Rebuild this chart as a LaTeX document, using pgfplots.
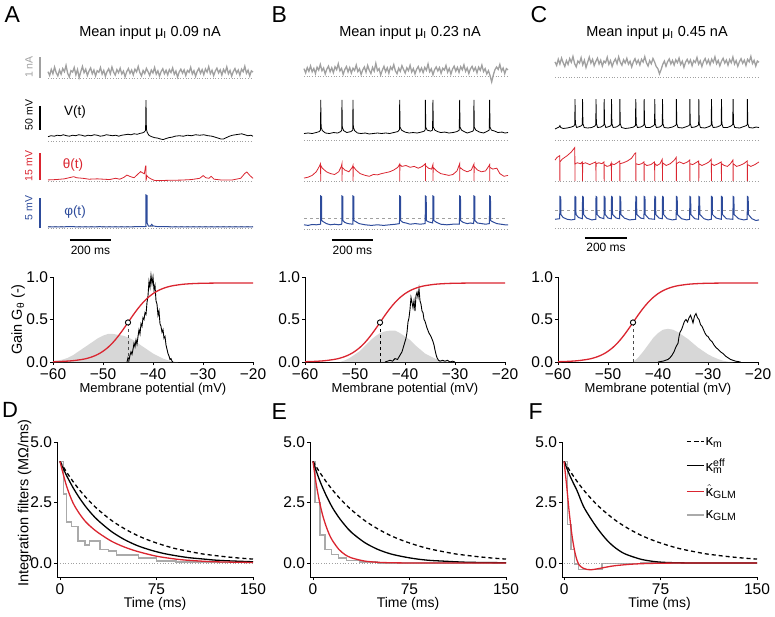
\documentclass[border=0pt]{standalone}
\usepackage{fontspec}
\setmainfont{Liberation Sans}
\usepackage{pgfplots}
\pgfplotsset{compat=1.18}
\pgfplotsset{/pgf/number format/assume math mode=true}

\definecolor{myred}{RGB}{218,37,48}
\definecolor{myblue}{RGB}{45,75,155}
\definecolor{trgray}{RGB}{160,160,160}
\definecolor{shade}{RGB}{215,215,215}
\definecolor{stepgray}{RGB}{170,170,170}
\newcommand\fs[1]{\fontsize{#1}{#1}\selectfont}

\pgfplotsset{
  trace/.style={axis lines=none, ticks=none, scale only axis, xmin=0, xmax=1000,
    anchor=south west, clip=false},
  guide/.style={trgray, dotted, line width=0.7pt},
  gainax/.style={scale only axis, width=200pt, height=85pt, anchor=south west,
    xmin=-60, xmax=-20, ymin=0, ymax=1, clip=false,
    axis x line*=bottom, axis y line*=left, axis line style={line width=0.8pt},
    tick align=outside, major tick length=3pt, tick style={line width=0.8pt, black},
    xtick={-60,-50,-40,-30,-20}, xticklabels={−60,−50,−40,−30,−20},
    ytick={0,0.5,1}, yticklabels={0.0,0.5,1.0},
    tick label style={font=\fs{15.5}},
    yticklabel style={xshift=1.5pt},
    xlabel={Membrane potential (mV)}, xlabel style={font=\fs{13}, yshift=3pt}},
  filtax/.style={scale only axis, height=135pt, anchor=south west,
    xmax=150, ymin=-0.58, ymax=5,
    axis x line*=bottom, axis y line*=left, axis line style={line width=0.8pt},
    tick align=outside, major tick length=3pt, tick style={line width=0.8pt, black},
    xtick={0,75,150}, ytick={0,2.5,5}, yticklabels={0.0,2.5,5.0},
    tick label style={font=\fs{15.5}},
    yticklabel style={xshift=1.5pt},
    xlabel={Time (ms)}, xlabel style={font=\fs{14}, yshift=4pt}},
  sig/.style={myred, line width=1.3pt, smooth},
  hist/.style={black, line width=0.9pt},
  kmdash/.style={black, line width=1.3pt, dash pattern=on 4pt off 3pt, smooth},
  keff/.style={black, line width=1.3pt, smooth},
  kglmh/.style={myred, line width=1.3pt, smooth},
  kglm/.style={stepgray, line width=1.5pt, const plot},
}

\begin{document}
\begin{tikzpicture}
\path[use as bounding box] (0,0) rectangle (775pt,616pt);

% panel letters and titles
\node[font=\fs{23}, anchor=west] at (1pt,601pt) {A};
\node[font=\fs{23}, anchor=west] at (268pt,601pt) {B};
\node[font=\fs{23}, anchor=west] at (527pt,601pt) {C};
\node[font=\fs{22}, anchor=west] at (-1.5pt,206pt) {D};
\node[font=\fs{23}, anchor=west] at (268pt,204pt) {E};
\node[font=\fs{23}, anchor=west] at (525pt,204pt) {F};
\node[font=\fs{14.5}] at (150pt,583pt) {Mean input μ\textsubscript{I} 0.09 nA};
\node[font=\fs{14.5}] at (410pt,583pt) {Mean input μ\textsubscript{I} 0.23 nA};
\node[font=\fs{14.5}] at (657pt,583pt) {Mean input μ\textsubscript{I} 0.45 nA};
\node[font=\fs{13.5}] at (75pt,504pt) {V(t)};
\node[font=\fs{13.5}, text=myred] at (73pt,451pt) {θ(t)};
\node[font=\fs{13.5}, text=myblue] at (75pt,404pt) {φ(t)};

%================ column A traces
\begin{axis}[trace, at={(48pt,527.5pt)}, width=205pt, height=31.5pt, ymin=-0.5, ymax=1]
\addplot[guide] coordinates {(0,0)(1000,0)};
\addplot[trgray, line width=1.3pt] coordinates {(0,.30)(8,.12)(16,.41)(24,.20)(32,.52)(40,.25)(48,.10)(56,.38)(64,.18)(72,.45)(80,.30)(88,.60)(96,.22)(104,.05)(112,.35)(120,.28)(128,.50)(136,.15)(144,.40)(152,.02)(160,.30)(168,.55)(176,.25)(184,.42)(192,.12)(200,.33)(208,.48)(216,.20)(224,.38)(232,.10)(240,.35)(248,.27)(256,.50)(264,.18)(272,.36)(280,.08)(288,.30)(296,.44)(304,.20)(312,.52)(320,.28)(328,.14)(336,.40)(344,.25)(352,.47)(360,.19)(368,.33)(376,.06)(384,.30)(392,.45)(400,.22)(408,.38)(416,.15)(424,.42)(432,.29)(440,.55)(448,.26)(456,.10)(464,.36)(472,.21)(480,.46)(488,.30)(496,.12)(504,.38)(512,.24)(520,.50)(528,.18)(536,.34)(544,.09)(552,.31)(560,.44)(568,.20)(576,.37)(584,.15)(592,.40)(600,.26)(608,.48)(616,.17)(624,.33)(632,.04)(640,.29)(648,.42)(656,.23)(664,.39)(672,.12)(680,.36)(688,.27)(696,.51)(704,.19)(712,.35)(720,.08)(728,.32)(736,.46)(744,.22)(752,.40)(760,.16)(768,.43)(776,.28)(784,.54)(792,.21)(800,.37)(808,.11)(816,.33)(824,.47)(832,.24)(840,.39)(848,.14)(856,.41)(864,.26)(872,.53)(880,.20)(888,.36)(896,.09)(904,.31)(912,.45)(920,.23)(928,.38)(936,.13)(944,.42)(952,.30)(960,.56)(968,.22)(976,.37)(984,.10)(992,.34)(1000,.28)};
\addplot[trgray, line width=2pt] coordinates {(-39,0)(-39,1)};
\node[font=\fs{10.5}, text=trgray, rotate=90] at (axis cs:-93,0.52) {1 nA};
\end{axis}

\begin{axis}[trace, at={(48pt,470.2pt)}, width=205pt, height=48pt, ymin=-80, ymax=20]
\addplot[guide] coordinates {(0,-70)(1000,-70)};
\addplot[black, line width=0.8pt] coordinates {(0,-61)(15,-59)(30,-60)(45,-58)(60,-59)(75,-57)(90,-59)(105,-60)(120,-58)(135,-59)(150,-57)(165,-58)(180,-60)(195,-58)(210,-59)(225,-57)(240,-58)(255,-60)(270,-59)(285,-57)(300,-58)(315,-59)(330,-58)(345,-60)(360,-58)(375,-57)(390,-56)(405,-57)(420,-55)(435,-56)(450,-54)(462,-53)(470,-51)(476,-48)(478,15)(480,-45)(484,-52)(492,-58)(505,-61)(520,-63)(535,-64)(550,-66)(562,-67)(575,-65)(590,-63)(605,-62)(620,-60)(640,-59)(660,-60)(680,-58)(700,-59)(720,-57)(740,-58)(760,-57)(780,-59)(800,-60)(815,-62)(830,-64)(845,-66)(855,-66)(870,-63)(885,-60)(900,-58)(915,-57)(930,-56)(945,-55)(960,-57)(975,-59)(990,-58)(1000,-60)};
\addplot[black, line width=2pt] coordinates {(-39,-47)(-39,3)};
\node[font=\fs{10.5}, rotate=90] at (axis cs:-93,-16) {50 mV};
\end{axis}

\begin{axis}[trace, at={(48pt,431.4pt)}, width=205pt, height=32.4pt, ymin=-2, ymax=16]
\addplot[guide] coordinates {(0,0)(1000,0)};
\addplot[myred, line width=0.8pt] coordinates {(0,0.6)(40,0.8)(80,1.2)(110,2.0)(125,2.4)(140,1.8)(170,1.5)(200,1.0)(240,1.2)(270,1.0)(300,0.8)(330,1.5)(350,1.0)(370,2.0)(385,3.3)(400,2.5)(420,1.8)(440,4.0)(452,5.2)(462,4.5)(470,4.0)(476,8.3)(478,8.3)(478.5,0.2)(482,3.0)(490,2.0)(505,1.0)(520,0.3)(560,0.3)(600,0.4)(650,0.5)(700,0.8)(740,1.5)(757,3.0)(770,1.8)(785,1.5)(796,2.6)(810,1.0)(850,0.5)(900,0.6)(940,1.5)(960,4.2)(970,5.0)(985,3.0)(1000,1.5)};
\addplot[myred, line width=2pt] coordinates {(-39,0.5)(-39,15.5)};
\node[font=\fs{10.5}, text=myred, rotate=90] at (axis cs:-93,8.3) {15 mV};
\end{axis}

\begin{axis}[trace, at={(48pt,385pt)}, width=205pt, height=39pt, ymin=-0.5, ymax=6]
\addplot[guide] coordinates {(0,0)(1000,0)};
\addplot[trgray, dashed, line width=0.7pt] coordinates {(0,0.25)(1000,0.25)};
\addplot[myblue, line width=1pt] coordinates {(0,.2)(50,.18)(100,.22)(150,.2)(200,.19)(250,.21)(300,.2)(350,.18)(400,.2)(450,.22)(477,.25)(478,5.5)(483,5.4)(484,.8)(490,.3)(500,.35)(506,.6)(512,.35)(530,.25)(600,.2)(700,.2)(800,.18)(900,.2)(1000,.2)};
\addplot[myblue, line width=2pt] coordinates {(-39,0)(-39,5)};
\node[font=\fs{10.5}, text=myblue, rotate=90] at (axis cs:-93,3.3) {5 mV};
\addplot[black, line width=2.5pt] coordinates {(107,-2)(307,-2)};
\node[font=\fs{12}] at (axis cs:207,-3.8) {200 ms};
\end{axis}

%================ column B traces
\begin{axis}[trace, at={(304pt,529.5pt)}, width=204pt, height=31.5pt, ymin=-0.5, ymax=1]
\addplot[guide] coordinates {(0,0)(1000,0)};
\addplot[trgray, line width=1.3pt] coordinates {(0,.35)(8,.15)(16,.40)(24,.22)(32,.48)(40,.20)(48,.36)(56,.12)(64,.42)(72,.28)(80,.55)(88,.25)(96,.38)(104,.10)(112,.33)(120,.47)(128,.20)(136,.39)(144,.16)(152,.44)(160,.30)(168,.58)(176,.24)(184,.36)(192,.08)(200,.31)(208,.45)(216,.19)(224,.40)(232,.14)(240,.37)(248,.26)(256,.52)(264,.21)(272,.34)(280,.07)(288,.29)(296,.43)(304,.18)(312,.50)(320,.27)(328,.12)(336,.41)(344,.23)(352,.60)(360,.25)(368,.35)(376,.05)(384,.28)(392,.46)(400,.20)(408,.39)(416,.13)(424,.43)(432,.30)(440,.54)(448,.24)(456,.11)(464,.37)(472,.22)(480,.49)(488,.31)(496,.14)(504,.39)(512,.25)(520,.51)(528,.19)(536,.35)(544,.10)(552,.32)(560,.45)(568,.21)(576,.38)(584,.16)(592,.41)(600,.27)(608,.57)(616,.20)(624,.34)(632,.06)(640,.30)(648,.43)(656,.24)(664,.40)(672,.13)(680,.37)(688,.28)(696,.50)(704,.18)(712,.36)(720,.09)(728,.33)(736,.47)(744,.23)(752,.41)(760,.17)(768,.44)(776,.29)(784,.53)(792,.22)(800,.38)(808,.12)(816,.34)(824,.46)(832,.25)(840,.40)(848,.15)(856,.42)(864,.27)(872,.52)(880,.21)(888,.35)(896,.10)(904,.25)(912,.02)(920,-.28)(928,.05)(936,.30)(944,.43)(952,.31)(960,.55)(968,.23)(976,.38)(984,.11)(992,.35)(1000,.29)};
\end{axis}

\begin{axis}[trace, at={(304pt,470.5pt)}, width=204pt, height=48pt, ymin=-80, ymax=20]
\addplot[guide] coordinates {(0,-70)(1000,-70)};
\addplot[black, line width=0.8pt] coordinates {(0,-55)(20,-54)(40,-55)(60,-53)(75,-51)(81,-48)(82,15)(84,-42)(90,-49)(105,-54)(125,-55)(145,-53)(165,-54)(180,-51)(185,-48)(186,15)(188,-42)(194,-49)(210,-53)(230,-51)(239,-48)(240,15)(242,-42)(248,-49)(262,-54)(280,-55)(300,-54)(320,-56)(340,-55)(360,-54)(380,-55)(400,-54)(420,-55)(440,-53)(460,-51)(468,-47)(469,15)(471,-42)(478,-48)(495,-52)(515,-54)(535,-53)(555,-54)(575,-52)(590,-50)(594,-47)(595,15)(597,-42)(604,-48)(620,-50)(630,-48)(632,15)(634,-42)(641,-48)(655,-51)(670,-53)(690,-52)(710,-54)(730,-53)(750,-51)(761,-48)(763,15)(765,-42)(772,-48)(785,-51)(800,-54)(815,-52)(828,-50)(832,-47)(833,15)(835,-42)(842,-48)(860,-52)(880,-54)(895,-51)(908,-48)(910,15)(912,-42)(919,-48)(935,-50)(950,-53)(970,-52)(985,-54)(1000,-53)};
\end{axis}

\begin{axis}[trace, at={(304pt,430.7pt)}, width=204pt, height=32.4pt, ymin=-2, ymax=16]
\addplot[guide] coordinates {(0,0)(1000,0)};
\addplot[myred, line width=0.8pt] coordinates {(0,2.0)(20,2.5)(40,3.5)(60,5.5)(75,8.5)(81,10.0)(82,0.3)(82.5,9.0)(90,7.5)(110,5.5)(130,4.5)(150,4.0)(170,5.5)(183,8.5)(186,10.0)(186.5,0.3)(187,8.0)(200,6.5)(220,5.5)(237,8.0)(240,9.0)(240.5,0.3)(241,8.5)(255,6.5)(275,4.5)(300,3.5)(320,3.0)(340,4.0)(360,3.8)(380,4.5)(400,5.0)(420,5.5)(440,6.5)(460,8.0)(469,9.8)(469.5,0.3)(470,9.5)(480,8.5)(500,9.0)(520,8.0)(540,8.5)(560,7.5)(580,8.5)(595,10.0)(595.5,0.3)(596,9.0)(610,7.5)(625,7.0)(632,9.5)(632.5,0.3)(633,8.0)(650,6.0)(670,4.5)(690,4.0)(710,3.5)(730,4.0)(750,6.0)(763,10.0)(763.5,0.3)(764,8.0)(780,6.5)(800,5.5)(820,6.5)(833,9.8)(833.5,0.3)(834,8.5)(850,6.5)(870,5.5)(890,6.0)(905,8.5)(910,9.5)(910.5,0.3)(911,8.0)(925,7.0)(945,7.5)(960,4.5)(980,3.0)(1000,3.5)};
\end{axis}

\begin{axis}[trace, at={(304pt,384pt)}, width=204pt, height=39pt, ymin=-0.5, ymax=6]
\addplot[guide] coordinates {(0,0)(1000,0)};
\addplot[trgray, dashed, line width=0.7pt] coordinates {(0,1.8)(1000,1.8)};
\addplot[myblue, line width=1pt] coordinates {(0,.7)(20,.6)(40,.75)(60,.7)(81,.8)(82,5.5)(86,5.4)(87,1.4)(95,1.2)(110,.9)(130,.7)(150,.8)(170,.7)(185,.8)(186,5.5)(190,5.4)(191,1.4)(200,1.1)(215,.9)(239,.8)(240,5.5)(244,5.4)(245,1.4)(255,1.2)(270,.9)(300,.7)(330,.6)(360,.7)(390,.6)(420,.7)(450,.8)(468,.9)(469,5.5)(473,5.4)(474,1.4)(485,1.1)(500,1.0)(520,.8)(545,.9)(570,.8)(594,.9)(595,5.5)(599,5.4)(600,1.4)(610,1.2)(631,1.0)(632,5.5)(636,5.4)(637,1.4)(650,1.1)(670,.8)(700,.7)(730,.8)(762,.8)(763,5.5)(767,5.4)(768,1.4)(780,1.1)(800,.9)(815,1.0)(832,.9)(833,5.5)(837,5.4)(838,1.4)(850,1.0)(870,.9)(890,.8)(909,.9)(910,5.5)(914,5.4)(915,1.4)(925,1.2)(945,.9)(965,.8)(985,.7)(1000,.7)};
\addplot[black, line width=2.5pt] coordinates {(137,-1.8)(337,-1.8)};
\node[font=\fs{12}] at (axis cs:237,-3.5) {200 ms};
\end{axis}

%================ column C traces
\begin{axis}[trace, at={(555pt,528.5pt)}, width=204pt, height=31.5pt, ymin=-0.5, ymax=1]
\addplot[guide] coordinates {(0,0)(1000,0)};
\addplot[trgray, line width=1.3pt] coordinates {(0,.72)(8,.55)(16,.85)(24,.62)(32,.90)(40,.68)(48,.50)(56,.78)(64,.60)(72,.88)(80,.70)(88,.98)(96,.64)(104,.48)(112,.76)(120,.66)(128,.92)(136,.58)(144,.80)(152,.45)(160,.70)(168,.95)(176,.66)(184,.84)(192,.54)(200,.74)(208,.90)(216,.62)(224,.80)(232,.52)(240,.76)(248,.68)(256,.94)(264,.60)(272,.78)(280,.50)(288,.72)(296,.86)(304,.63)(312,.96)(320,.70)(328,.56)(336,.82)(344,.67)(352,.89)(360,.61)(368,.75)(376,.48)(384,.72)(392,.87)(400,.64)(408,.80)(416,.57)(424,.84)(432,.71)(440,.97)(448,.68)(456,.52)(464,.78)(472,.63)(480,.88)(488,.72)(496,.50)(504,.40)(512,.15)(520,.35)(528,.60)(536,.76)(544,.51)(552,.73)(560,.86)(568,.62)(576,.79)(584,.57)(592,.82)(600,.68)(608,.90)(616,.59)(624,.75)(632,.46)(640,.71)(648,.84)(656,.65)(664,.81)(672,.54)(680,.78)(688,.69)(696,.93)(704,.61)(712,.77)(720,.50)(728,.74)(736,.88)(744,.64)(752,.82)(760,.58)(768,.85)(776,.70)(784,.96)(792,.63)(800,.79)(808,.53)(816,.75)(824,.89)(832,.66)(840,.81)(848,.56)(856,.83)(864,.68)(872,.95)(880,.62)(888,.78)(896,.51)(904,.73)(912,.87)(920,.65)(928,.80)(936,.55)(944,.84)(952,.72)(960,.98)(968,.64)(976,.79)(984,.52)(992,.76)(1000,.70)};
\end{axis}

\begin{axis}[trace, at={(555pt,471.2pt)}, width=204pt, height=48pt, ymin=-80, ymax=20]
\addplot[guide] coordinates {(0,-70)(1000,-70)};
\addplot[black, line width=0.8pt] coordinates {(0,-47)(10,-45)(20,-43)(24,-40)(28,-44)(40,-46)(60,-45)(80,-43)(92,-41)(97,-38)(98,15)(100,-36)(106,-44)(120,-42)(130,-40)(134,-38)(135,15)(137,-36)(143,-44)(160,-45)(180,-44)(195,-41)(200,-38)(201,15)(203,-36)(209,-44)(225,-43)(236,-40)(240,-38)(241,15)(243,-36)(249,-44)(265,-42)(274,-40)(276,-38)(277,15)(279,-36)(285,-44)(300,-43)(312,-40)(317,-38)(318,15)(320,-36)(326,-44)(345,-46)(365,-45)(385,-43)(394,-40)(396,15)(398,-36)(404,-44)(420,-43)(433,-40)(436,-38)(437,15)(439,-36)(445,-44)(465,-44)(480,-41)(488,-38)(489,15)(491,-36)(497,-44)(512,-43)(523,-40)(526,-38)(527,15)(529,-36)(535,-44)(555,-45)(575,-43)(590,-40)(594,-38)(595,15)(597,-36)(603,-44)(625,-45)(645,-42)(657,-40)(660,-38)(661,15)(663,-36)(669,-44)(685,-43)(700,-40)(704,-38)(705,15)(707,-36)(713,-44)(735,-45)(755,-42)(764,-40)(766,-38)(767,15)(769,-36)(775,-44)(795,-43)(810,-40)(815,-38)(816,15)(818,-36)(824,-44)(845,-44)(862,-41)(871,-38)(873,15)(875,-36)(881,-44)(905,-45)(925,-42)(938,-40)(942,-38)(943,15)(945,-36)(951,-44)(970,-45)(985,-43)(1000,-44)};
\end{axis}

\begin{axis}[trace, at={(555pt,430.7pt)}, width=204pt, height=32.4pt, ymin=-2, ymax=16]
\addplot[guide] coordinates {(0,0)(1000,0)};
\addplot[myred, line width=0.8pt] coordinates {(0,12.0)(10,13.5)(23,14.5)(24,0.3)(24.5,11.0)(35,12.5)(60,14.5)(80,16.5)(97,19.0)(98,0.3)(98.5,10.0)(110,10.5)(125,10.0)(134,11.0)(135,0.3)(135.5,10.0)(150,10.5)(170,9.5)(190,10.5)(200,11.0)(201,0.3)(201.5,10.0)(215,10.5)(230,10.0)(240,11.0)(241,0.3)(241.5,9.5)(255,8.5)(270,9.0)(276,10.5)(277,0.3)(277.5,10.0)(290,9.5)(305,10.5)(317,11.5)(318,0.3)(318.5,10.0)(335,10.5)(355,11.5)(375,13.0)(390,15.5)(396,16.0)(396.5,0.3)(397,10.0)(410,9.5)(425,10.0)(436,11.0)(437,0.3)(437.5,10.0)(450,9.0)(470,9.5)(488,11.0)(489,0.3)(489.5,10.0)(500,9.0)(515,10.0)(526,12.5)(527,0.3)(527.5,10.5)(545,9.0)(565,10.0)(585,12.0)(594,13.5)(595,0.3)(595.5,10.0)(610,11.0)(630,10.0)(650,11.0)(660,12.0)(661,0.3)(661.5,10.0)(675,9.5)(690,10.5)(704,11.5)(705,0.3)(705.5,10.0)(720,9.0)(740,10.0)(755,11.0)(766,12.5)(767,0.3)(767.5,10.0)(780,9.0)(800,10.0)(815,11.0)(816,0.3)(816.5,10.0)(830,9.0)(845,8.5)(860,10.0)(872,12.0)(873,0.3)(873.5,10.0)(890,8.5)(905,9.0)(925,10.0)(942,11.5)(943,0.3)(943.5,9.5)(960,8.5)(980,9.5)(1000,11.0)};
\end{axis}

\begin{axis}[trace, at={(555pt,384.7pt)}, width=204pt, height=39pt, ymin=-0.5, ymax=6]
\addplot[guide] coordinates {(0,0)(1000,0)};
\addplot[trgray, dashed, line width=0.7pt] coordinates {(0,3.05)(1000,3.05)};
\addplot[myblue, line width=1pt] coordinates {(0,1.5)(23,1.6)(24,5.3)(28,5.2)(29,2.3)(40,1.8)(60,1.5)(80,1.4)(97,1.5)(98,5.3)(102,5.2)(103,2.3)(115,1.8)(134,1.6)(135,5.3)(139,5.2)(140,2.3)(155,1.7)(180,1.4)(200,1.5)(201,5.3)(205,5.2)(206,2.3)(220,1.8)(240,1.6)(241,5.3)(245,5.2)(246,2.3)(260,1.7)(276,1.6)(277,5.3)(281,5.2)(282,2.3)(300,1.7)(317,1.6)(318,5.3)(322,5.2)(323,2.3)(340,1.7)(365,1.4)(395,1.5)(396,5.3)(400,5.2)(401,2.3)(420,1.7)(436,1.6)(437,5.3)(441,5.2)(442,2.3)(460,1.6)(488,1.5)(489,5.3)(493,5.2)(494,2.3)(510,1.7)(526,1.6)(527,5.3)(531,5.2)(532,2.3)(550,1.6)(575,1.4)(594,1.5)(595,5.3)(599,5.2)(600,2.3)(620,1.6)(645,1.4)(660,1.5)(661,5.3)(665,5.2)(666,2.3)(685,1.6)(704,1.5)(705,5.3)(709,5.2)(710,2.3)(730,1.6)(750,1.4)(766,1.5)(767,5.3)(771,5.2)(772,2.3)(790,1.7)(815,1.5)(816,5.3)(820,5.2)(821,2.3)(840,1.6)(872,1.5)(873,5.3)(877,5.2)(878,2.3)(900,1.6)(925,1.4)(942,1.5)(943,5.3)(947,5.2)(948,2.3)(965,1.6)(985,1.3)(1000,1.4)};
\addplot[black, line width=2.5pt] coordinates {(147,-1.6)(353,-1.6)};
\node[font=\fs{12}] at (axis cs:250,-3.2) {200 ms};
\end{axis}

%================ gain panels
\begin{axis}[gainax, at={(53pt,254pt)}, ylabel={Gain G\textsubscript{θ} (-)},
  ylabel style={font=\fs{14.5}, at={(axis description cs:-0.175,0.5)}, anchor=center}]
\addplot[fill=shade, draw=none] coordinates {(-60,0.005)(-58,0.03)(-57,0.05)(-56,0.08)(-55,0.12)(-54,0.16)(-53,0.2)(-52,0.24)(-51,0.28)(-50,0.31)(-49,0.33)(-48,0.33)(-47,0.32)(-46,0.31)(-45,0.29)(-44,0.26)(-43,0.22)(-42,0.18)(-41,0.14)(-40,0.10)(-39,0.07)(-38,0.04)(-37,0.02)(-36,0.005)(-35,0)} \closedcycle;
\addplot[hist] coordinates {(-45.2,0)(-45,0.05)(-44.8,0.02)(-44.6,0.08)(-44.4,0.12)(-44.2,0.09)(-44,0.15)(-43.8,0.22)(-43.6,0.18)(-43.4,0.26)(-43.2,0.21)(-43,0.3)(-42.8,0.38)(-42.6,0.33)(-42.4,0.45)(-42.2,0.42)(-42,0.52)(-41.8,0.5)(-41.6,0.58)(-41.4,0.56)(-41.2,0.7)(-41,0.78)(-40.8,0.95)(-40.6,0.88)(-40.4,1.02)(-40.2,0.92)(-40,1.0)(-39.8,0.85)(-39.6,0.9)(-39.4,0.72)(-39.2,0.68)(-39,0.55)(-38.8,0.6)(-38.6,0.45)(-38.4,0.42)(-38.2,0.35)(-38,0.38)(-37.8,0.28)(-37.6,0.3)(-37.4,0.2)(-37.2,0.15)(-37,0.1)(-36.8,0.07)(-36.6,0.03)(-36.4,0.04)(-36.2,0.01)(-36,0)};
\addplot[black!70, dashed, line width=0.9pt] coordinates {(-45,0)(-45,0.465)};
\addplot[sig] coordinates {(-60,0.0036)(-58,0.0075)(-56,0.0156)(-54,0.032)(-53,0.0457)(-52,0.0647)(-51,0.0909)(-50,0.1262)(-49,0.1722)(-48,0.2302)(-47,0.3002)(-46,0.3799)(-45,0.465)(-44,0.5501)(-43,0.6298)(-42,0.6997)(-41,0.7578)(-40,0.8039)(-39,0.8391)(-38,0.8653)(-37,0.8843)(-36,0.8979)(-34,0.9145)(-32,0.9225)(-30,0.9264)(-27,0.9288)(-24,0.9296)(-20,0.9299)};
\addplot[only marks, mark=*, mark size=2.6pt, mark options={fill=white, draw=black, line width=0.9pt}] coordinates {(-45,0.465)};
\end{axis}

\begin{axis}[gainax, at={(305pt,254pt)}]
\addplot[fill=shade, draw=none] coordinates {(-53,0)(-52,0.02)(-51,0.05)(-50,0.09)(-49,0.13)(-48,0.19)(-47,0.25)(-46,0.3)(-45,0.34)(-44,0.36)(-43,0.37)(-42,0.37)(-41,0.34)(-40,0.3)(-39,0.26)(-38,0.2)(-37,0.15)(-36,0.1)(-35,0.07)(-34,0.04)(-33,0.02)(-32,0.01)(-30,0)} \closedcycle;
\addplot[hist] coordinates {(-44,0)(-43.5,0.01)(-43,0.02)(-42.5,0.01)(-42,0.04)(-41.5,0.03)(-41,0.08)(-40.6,0.12)(-40.2,0.2)(-39.8,0.28)(-39.6,0.35)(-39.4,0.47)(-39.2,0.52)(-39,0.62)(-38.8,0.76)(-38.6,0.7)(-38.4,0.64)(-38.2,0.72)(-38,0.6)(-37.8,0.78)(-37.6,0.82)(-37.4,0.76)(-37.2,0.86)(-37,0.72)(-36.8,0.68)(-36.6,0.6)(-36.4,0.58)(-36.2,0.5)(-36,0.48)(-35.8,0.44)(-35.6,0.4)(-35.4,0.37)(-35.2,0.34)(-35,0.32)(-34.8,0.3)(-34.6,0.27)(-34.4,0.24)(-34.2,0.2)(-34,0.14)(-33.8,0.09)(-33.6,0.05)(-33.3,0.02)(-33,0.01)(-32.5,0.02)(-32,0.01)(-31.5,0.02)(-31,0)(-30.5,0.01)(-30,0)};
\addplot[black, dashed, line width=0.9pt] coordinates {(-45,0)(-45,0.465)};
\addplot[sig] coordinates {(-60,0.0036)(-58,0.0075)(-56,0.0156)(-54,0.032)(-53,0.0457)(-52,0.0647)(-51,0.0909)(-50,0.1262)(-49,0.1722)(-48,0.2302)(-47,0.3002)(-46,0.3799)(-45,0.465)(-44,0.5501)(-43,0.6298)(-42,0.6997)(-41,0.7578)(-40,0.8039)(-39,0.8391)(-38,0.8653)(-37,0.8843)(-36,0.8979)(-34,0.9145)(-32,0.9225)(-30,0.9264)(-27,0.9288)(-24,0.9296)(-20,0.9299)};
\addplot[only marks, mark=*, mark size=2.6pt, mark options={fill=white, draw=black, line width=0.9pt}] coordinates {(-45,0.465)};
\end{axis}

\begin{axis}[gainax, at={(558pt,254pt)}]
\addplot[fill=shade, draw=none] coordinates {(-45,0)(-44,0.05)(-43,0.12)(-42,0.2)(-41,0.28)(-40,0.34)(-39,0.38)(-38,0.39)(-37,0.38)(-36,0.35)(-35,0.31)(-34,0.27)(-33,0.22)(-32,0.17)(-31,0.13)(-30,0.09)(-29,0.06)(-28,0.035)(-27,0.015)(-26,0.005)(-25,0)} \closedcycle;
\addplot[hist] coordinates {(-40,0)(-39.5,0.005)(-39,0.01)(-38.5,0.02)(-38,0.03)(-37.6,0.05)(-37.2,0.08)(-36.8,0.12)(-36.4,0.18)(-36,0.22)(-35.8,0.3)(-35.6,0.35)(-35.3,0.38)(-35,0.43)(-34.7,0.48)(-34.4,0.5)(-34.1,0.47)(-33.8,0.52)(-33.5,0.55)(-33.2,0.5)(-33,0.46)(-32.7,0.54)(-32.4,0.57)(-32.1,0.52)(-31.8,0.5)(-31.5,0.44)(-31.2,0.42)(-30.9,0.38)(-30.6,0.34)(-30.3,0.31)(-30,0.3)(-29.6,0.26)(-29.2,0.24)(-28.8,0.2)(-28.4,0.17)(-28,0.15)(-27.5,0.12)(-27,0.1)(-26.5,0.07)(-26,0.05)(-25.5,0.03)(-25,0.02)(-24.5,0.01)(-24,0.005)(-23.5,0)};
\addplot[black!70, dashed, line width=0.9pt] coordinates {(-45,0)(-45,0.465)};
\addplot[sig] coordinates {(-60,0.0036)(-58,0.0075)(-56,0.0156)(-54,0.032)(-53,0.0457)(-52,0.0647)(-51,0.0909)(-50,0.1262)(-49,0.1722)(-48,0.2302)(-47,0.3002)(-46,0.3799)(-45,0.465)(-44,0.5501)(-43,0.6298)(-42,0.6997)(-41,0.7578)(-40,0.8039)(-39,0.8391)(-38,0.8653)(-37,0.8843)(-36,0.8979)(-34,0.9145)(-32,0.9225)(-30,0.9264)(-27,0.9288)(-24,0.9296)(-20,0.9299)};
\addplot[only marks, mark=*, mark size=2.6pt, mark options={fill=white, draw=black, line width=0.9pt}] coordinates {(-45,0.465)};
\end{axis}

%================ filter panels
\begin{axis}[filtax, at={(57pt,39pt)}, width=196pt, xmin=-2.3,
  ylabel={Integration filters (MΩ/ms)},
  ylabel style={font=\fs{14.5}, at={(axis description cs:-0.165,0.55)}, anchor=center}]
\addplot[kglm] coordinates {(0,4.2)(2.6,2.85)(5.2,1.7)(9,1.5)(14,0.9)(19.4,0.75)(23,0.9)(31,0.55)(37.6,0.5)(44,0.33)(61,0.2)(75,0.08)(90,0.05)(110,0.02)(150,0.02)};
\addplot[guide] coordinates {(0,0)(150,0)};
\addplot[kmdash] coordinates {(0,4.2)(5,3.77)(10,3.38)(15,3.03)(20,2.72)(25,2.44)(30,2.19)(40,1.76)(50,1.42)(60,1.14)(70,0.92)(80,0.74)(90,0.59)(100,0.48)(110,0.38)(120,0.31)(130,0.25)(140,0.2)(150,0.16)};
\addplot[keff] coordinates {(0,4.2)(5,3.63)(10,3.13)(15,2.7)(20,2.33)(25,2.01)(30,1.74)(40,1.3)(50,0.97)(60,0.72)(70,0.54)(80,0.4)(90,0.3)(100,0.22)(110,0.17)(120,0.12)(130,0.09)(140,0.07)(150,0.05)};
\addplot[kglmh] coordinates {(0,4.2)(5,3.2)(10,2.5)(15,2.05)(20,1.7)(25,1.45)(30,1.24)(40,0.9)(50,0.66)(60,0.48)(75,0.28)(90,0.16)(100,0.11)(120,0.05)(150,0.02)};
\end{axis}

\begin{axis}[filtax, at={(310pt,39pt)}, width=196pt, xmin=-2.3]
\addplot[kglm] coordinates {(0,4.2)(1.5,2.5)(5.4,1.15)(9.3,0.55)(14.5,0.35)(19.7,0.2)(26,0.1)(36.5,0.04)(50,0)(150,0)};
\addplot[guide] coordinates {(0,0)(150,0)};
\addplot[kmdash] coordinates {(0,4.2)(5,3.77)(10,3.38)(15,3.03)(20,2.72)(25,2.44)(30,2.19)(40,1.76)(50,1.42)(60,1.14)(70,0.92)(80,0.74)(90,0.59)(100,0.48)(110,0.38)(120,0.31)(130,0.25)(140,0.2)(150,0.16)};
\addplot[keff] coordinates {(0,4.2)(5,3.44)(10,2.82)(15,2.3)(20,1.89)(25,1.55)(30,1.26)(40,0.85)(50,0.57)(60,0.38)(70,0.26)(80,0.17)(90,0.11)(100,0.08)(120,0.03)(150,0.01)};
\addplot[kglmh] coordinates {(0,4.2)(2.5,3.27)(5,2.55)(7.5,1.98)(10,1.55)(12.5,1.2)(15,0.94)(20,0.57)(25,0.34)(30,0.21)(40,0.08)(50,0.03)(60,0.01)(80,0)(150,0)};
\end{axis}

\begin{axis}[filtax, at={(562pt,39pt)}, width=195pt, xmin=-1.6,
  legend style={draw=none, fill=none, at={(0.62,1.06)}, anchor=north west,
    font=\fs{15}, row sep=10pt, nodes={inner sep=1pt}},
  legend cell align=left]
\addlegendimage{kmdash}\addlegendentry{κ\textsubscript{m}}
\addlegendimage{keff}\addlegendentry{κ\rlap{\textsuperscript{eff}}\textsubscript{m}}
\addlegendimage{kglmh}\addlegendentry{$\hat{\mbox{κ}}$\textsubscript{GLM}}
\addlegendimage{kglm, sharp plot}\addlegendentry{κ\textsubscript{GLM}}
\addplot[kglm, forget plot] coordinates {(0,4.2)(2.8,1.58)(5.4,0.55)(8,-0.05)(11.1,-0.27)(29.3,-0.02)(60,0)(150,0)};
\addplot[guide, forget plot] coordinates {(0,0)(150,0)};
\addplot[kmdash, forget plot] coordinates {(0,4.2)(5,3.77)(10,3.38)(15,3.03)(20,2.72)(25,2.44)(30,2.19)(40,1.76)(50,1.42)(60,1.14)(70,0.92)(80,0.74)(90,0.59)(100,0.48)(110,0.38)(120,0.31)(130,0.25)(140,0.2)(150,0.16)};
\addplot[keff, forget plot] coordinates {(0,4.2)(5,3.55)(10,3.0)(15,2.35)(20,1.9)(25,1.5)(30,1.15)(35,0.85)(40,0.62)(45,0.44)(50,0.32)(60,0.15)(70,0.06)(80,0.02)(100,0)(150,0)};
\addplot[kglmh, forget plot] coordinates {(0,4.2)(2,3.2)(4,2.1)(6,1.2)(8,0.55)(10,0.12)(12,-0.1)(15,-0.22)(18,-0.27)(21,-0.28)(25,-0.25)(30,-0.2)(35,-0.15)(40,-0.11)(50,-0.06)(60,-0.03)(75,-0.01)(100,0)(150,0)};
\end{axis}
\end{tikzpicture}
\end{document}
